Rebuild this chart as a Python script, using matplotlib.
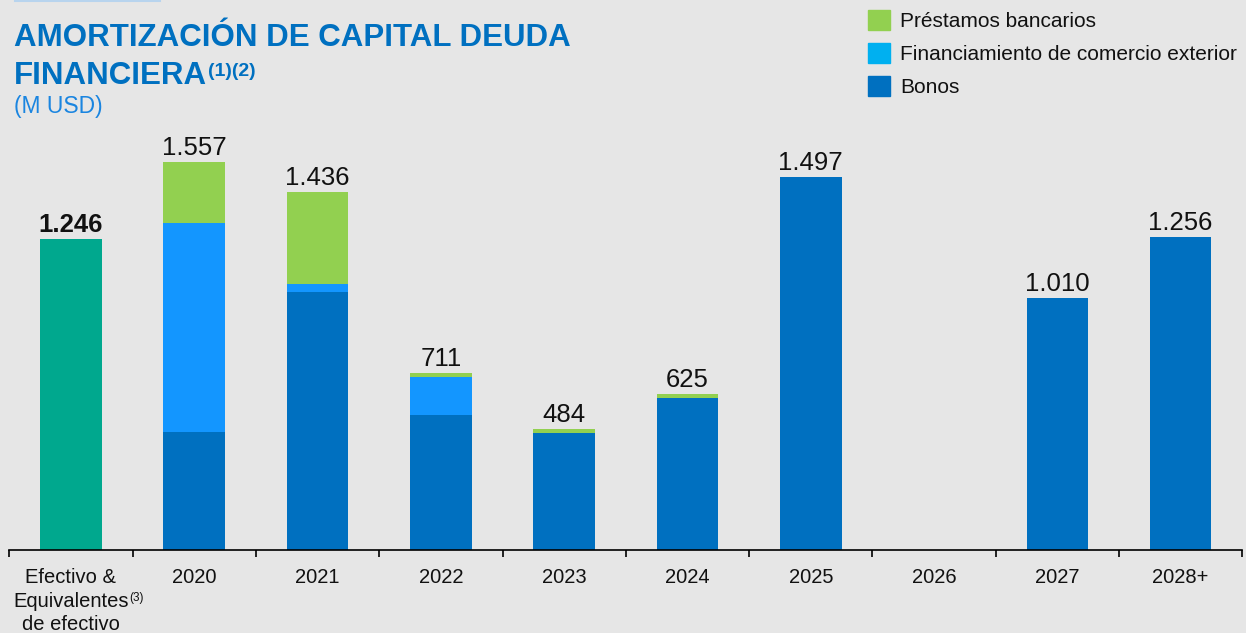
import matplotlib
matplotlib.use("Agg")
import matplotlib.pyplot as plt
from matplotlib.patches import Rectangle
from matplotlib.lines import Line2D
import numpy as np

plt.rcParams['font.family'] = ['Liberation Sans', 'DejaVu Sans']

categories = ["Efectivo &\nEquivalentes\nde efectivo", "2020", "2021", "2022", "2023",
              "2024", "2025", "2026", "2027", "2028+"]
efectivo = [1246, 0, 0, 0, 0, 0, 0, 0, 0, 0]
bonos = [0, 474, 1036, 543, 469, 609, 1494, 0, 1010, 1256]
comercio = [0, 836, 29, 151, 0, 0, 0, 0, 0, 0]
prestamos = [0, 247, 371, 17, 15, 16, 3, 0, 0, 0]

c_efectivo = '#00A88E'
c_bonos = '#0070C0'
c_comercio = '#1396FF'
c_prestamos = '#92D050'
c_title = '#0070C0'
bg = '#E6E6E6'

W, H = 1246, 633
fig = plt.figure(figsize=(W / 100, H / 100), dpi=100, facecolor=bg)


def fx(px):
    return px / W


def fy(py):
    return 1 - py / H


ax = fig.add_axes([fx(9.3), fy(550), fx(1233), 450 / H])
ax.set_facecolor(bg)

x = np.arange(len(categories))
w = 0.5
bonos = np.array(bonos)
comercio = np.array(comercio)
prestamos = np.array(prestamos)
ax.bar(x, efectivo, w, color=c_efectivo)
ax.bar(x, bonos, w, color=c_bonos)
ax.bar(x, comercio, w, bottom=bonos, color=c_comercio)
ax.bar(x, prestamos, w, bottom=bonos + comercio, color=c_prestamos)

totals = np.array(efectivo) + bonos + comercio + prestamos
for i, t in enumerate(totals):
    if t == 0:
        continue
    lbl = f"{t:,}".replace(",", ".")
    ax.annotate(lbl, (x[i], t), xytext=(0, 1.5), textcoords='offset points',
                ha='center', va='bottom', fontsize=18.5, color='#111111',
                fontweight='bold' if i == 0 else 'normal')

ax.set_xlim(-0.5, len(categories) - 0.5)
ax.set_ylim(0, 450 * 4.01)
for s in ['top', 'right', 'left']:
    ax.spines[s].set_visible(False)
ax.spines['bottom'].set_linewidth(1.2)
ax.set_yticks([])
ax.set_xticks(np.arange(-0.5, len(categories)), minor=False)
ax.set_xticklabels([])
ax.tick_params(axis='x', which='major', length=5, width=1.2, direction='out')
ax.set_xticks(x, minor=True)
ax.set_xticklabels(categories, minor=True, fontsize=14.5, color='#111111',
                   linespacing=1.3)
ax.tick_params(axis='x', which='minor', length=0, pad=13)

# superscript on cash label
fig.text(fx(137), fy(598), "(3)", fontsize=8.5, color='#111111', ha='center', va='center')

# title
fig.text(fx(14), fy(46), "AMORTIZACIÓN DE CAPITAL DEUDA", fontsize=22.5,
         fontweight='bold', color=c_title, ha='left', va='baseline')
t2 = fig.text(fx(14), fy(83.5), "FINANCIERA", fontsize=22.5,
              fontweight='bold', color=c_title, ha='left', va='baseline')
fig.canvas.draw()
bb = t2.get_window_extent()
fig.text(bb.x1 / W + 0.001, fy(76), "(1)(2)", fontsize=14, fontweight='bold',
         color=c_title, ha='left', va='baseline')
fig.text(fx(14), fy(113), "(M USD)", fontsize=16.5, color='#1A85E0',
         ha='left', va='baseline')

# decoration line at top
fig.add_artist(Line2D([fx(15), fx(160)], [fy(0.5), fy(0.5)], color='#B8D4EE', lw=1.5))

# legend
legend_items = [("Préstamos bancarios", c_prestamos, 20),
                ("Financiamiento de comercio exterior", '#00B0F0', 53),
                ("Bonos", c_bonos, 86)]
for name, col, yc in legend_items:
    fig.add_artist(Rectangle((fx(868), fy(yc + 10)), fx(22), 20 / H,
                             transform=fig.transFigure, color=col))
    fig.text(fx(900), fy(yc + 1.5), name, fontsize=15, color='#111111',
             ha='left', va='center')

fig.savefig("out.png", dpi=100, facecolor=bg)
